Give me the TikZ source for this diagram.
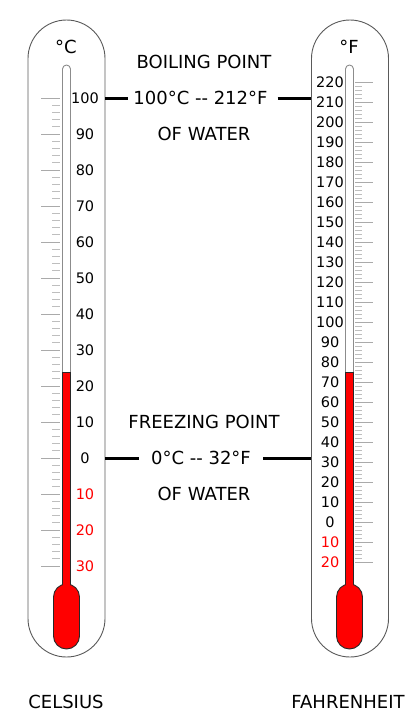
\documentclass[tikz,border=0pt]{standalone}
\usepackage{fontspec}
\setmainfont{DejaVu Sans}
\usepackage{tikz}
\usetikzlibrary{positioning, calc}
\definecolor{casegray}{RGB}{90,90,90}
\definecolor{tubegray}{RGB}{140,140,140}
\definecolor{tickgray}{RGB}{170,170,170}
\definecolor{minorgray}{RGB}{190,190,190}
\definecolor{hgred}{RGB}{255,0,0}
\definecolor{bulbedge}{RGB}{40,40,40}
\tikzset{
  case/.style={rectangle, draw=casegray, fill=white, line width=0.9pt,
    minimum width=77pt, minimum height=637pt, rounded corners=38.5pt, inner sep=0pt},
  tube/.style={draw=tubegray, fill=white, line width=0.9pt, rounded corners=4pt},
  column/.style={draw=bulbedge, fill=hgred, line width=0.6pt},
  bulb/.style={draw=bulbedge, fill=hgred, line width=0.9pt, rounded corners=13pt},
  majortick/.style={draw=tickgray, line width=0.9pt},
  minortick/.style={draw=minorgray, line width=0.9pt},
  scalelabel/.style={font=\fontsize{14.5}{16}\selectfont, inner sep=0pt},
  neglabel/.style={scalelabel, text=hgred},
  caption/.style={font=\fontsize{18}{21}\selectfont, inner sep=0pt},
  marker/.style={line width=3pt, color=black}
}

\begin{document}
\begin{tikzpicture}[x=1pt, y=-1pt]
  \useasboundingbox (0,0) rectangle (414,720);

  % Celsius thermometer
  \node[case] (ccase) at (66.5,338.5) {};
  \draw[tube] (62.5,65) rectangle (70.5,600);
  \draw[column] (62.5,372) rectangle (70.5,592);
  \draw[bulb] (53.5,584) rectangle (79.5,649);
  \fill[hgred] (63,580) rectangle (70,592);
  % ticks, every 2 degrees
  \foreach \t in {-30,-28,...,100}
    \draw[minortick] (52,458-3.6*\t) -- (60,458-3.6*\t);
  \foreach \t in {-30,-20,...,100}
    \draw[majortick] (41,458-3.6*\t) -- (60,458-3.6*\t);
  \foreach \t in {0,10,...,100}
    \node[scalelabel] (c\t) at (85,458-3.6*\t) {\t};
  \foreach \t in {10,20,30}
    \node[neglabel] (cm\t) at (85,458+3.6*\t) {\t};
  \node[caption] (cunit) at (66,47) {°C};

  % Fahrenheit thermometer
  \node[case] (fcase) at (350,338.5) {};
  \draw[tube] (345.5,65) rectangle (353.5,600);
  \draw[column] (345.5,372) rectangle (353.5,592);
  \draw[bulb] (336.5,584) rectangle (362.5,649);
  \fill[hgred] (346,580) rectangle (353,592);
  % ticks, every 2 degrees
  \foreach \t in {-20,-18,...,220}
    \draw[minortick] (355,522-2*\t) -- (362,522-2*\t);
  \foreach \t in {-20,-10,...,220}
    \draw[majortick] (355,522-2*\t) -- (373,522-2*\t);
  \foreach \t in {0,10,...,220}
    \node[scalelabel] (f\t) at (330,522-2*\t) {\t};
  \foreach \t in {10,20}
    \node[neglabel] (fm\t) at (330,522+2*\t) {\t};
  \node[caption] (funit) at (349,47) {°F};

  % Boiling point
  \node[caption] (boiltitle) at (204,62) {BOILING POINT};
  \node[caption] (boil) at (200.5,98) {100°C -{}- 212°F};
  \node[caption] (boilwater) at (204,134) {OF WATER};
  \draw[marker] (ccase.east |- boil) -- ([xshift=-5pt]boil.west);
  \draw[marker] ([xshift=10pt]boil.east) -- (fcase.west |- boil);

  % Freezing point
  \node[caption] (freezetitle) at (204,422) {FREEZING POINT};
  \node[caption] (freeze) at (201,458) {0°C -{}- 32°F};
  \node[caption] (freezewater) at (204,494) {OF WATER};
  \draw[marker] (ccase.east |- freeze) -- ([xshift=-12pt]freeze.west);
  \draw[marker] ([xshift=12pt]freeze.east) -- (fcase.west |- freeze);

  % Scale names
  \node[caption] (cname) at (66,702) {CELSIUS};
  \node[caption] (fname) at (348,702) {FAHRENHEIT};
\end{tikzpicture}
\end{document}
